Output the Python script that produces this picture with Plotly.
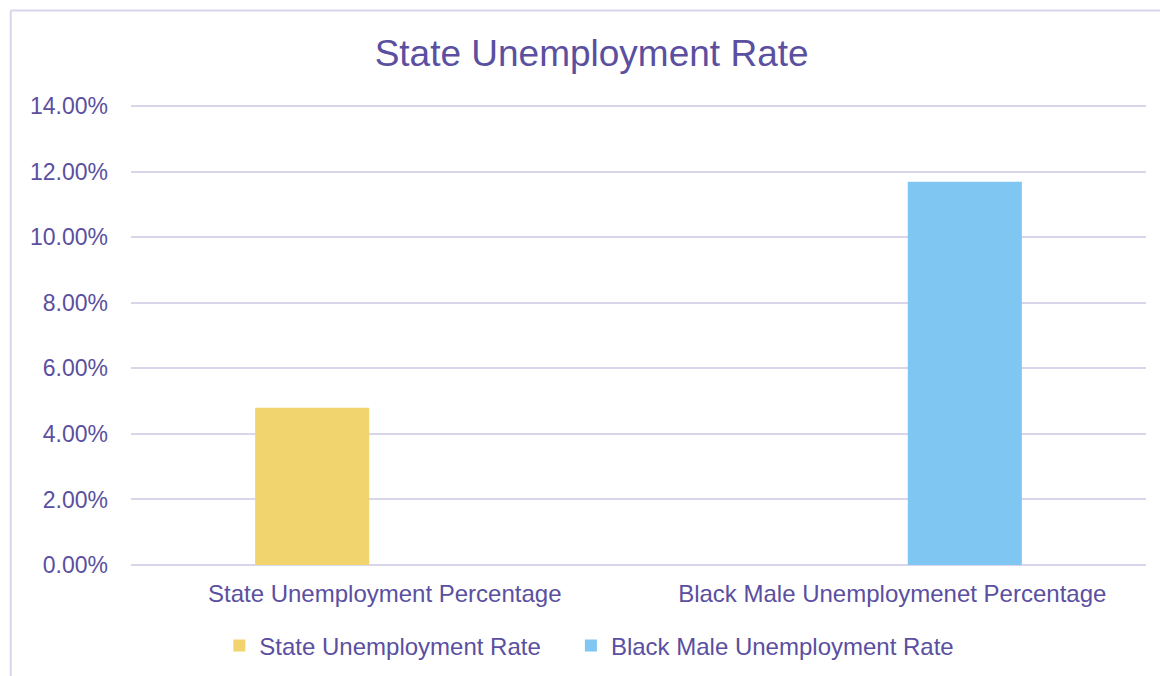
import plotly.graph_objects as go

# Categories and series values (percent)
categories = ["State Unemployment Percentage", "Black Male Unemploymenet Percentage"]
state_rate = [4.8, None]
black_male_rate = [None, 11.7]
series_names = ["State Unemployment Rate", "Black Male Unemployment Rate"]
y_ticks = [0, 2, 4, 6, 8, 10, 12, 14]
y_tick_labels = [f"{v:.2f}%" for v in y_ticks]

TEXT = "#5A4FA0"
GRID = "#D9D6EB"
FONT = "Liberation Sans, Arial, sans-serif"

fig = go.Figure()
fig.add_trace(go.Bar(x=categories, y=state_rate, name=series_names[0],
                     marker=dict(color="#F2D46E", line_width=0), legend="legend"))
fig.add_trace(go.Bar(x=categories, y=black_male_rate, name=series_names[1],
                     marker=dict(color="#7FC6F2", line_width=0), legend="legend2"))

legend_style = dict(orientation="h", xanchor="left", y=-0.175, yanchor="middle",
                    font=dict(size=24, color=TEXT), itemwidth=30,
                    bgcolor="rgba(0,0,0,0)")

fig.update_layout(
    width=1160, height=676,
    margin=dict(l=131, r=14, t=103, b=111, autoexpand=False),
    paper_bgcolor="white", plot_bgcolor="white",
    barmode="group", bargap=0.428, bargroupgap=0.214,
    font=dict(family=FONT, color=TEXT, size=23),
    title=dict(text="State Unemployment Rate", x=0.51, xanchor="center",
               y=0.922, yanchor="middle",
               font=dict(size=37, color=TEXT, family=FONT)),
    showlegend=True,
    legend=dict(x=0.087, **legend_style),
    legend2=dict(x=0.4334, **legend_style),
    xaxis=dict(showgrid=False, showline=False, ticks="", tickfont=dict(size=24),
               ticklabelstandoff=12),
    yaxis=dict(range=[0, 14.1], tickvals=y_ticks, ticktext=y_tick_labels,
               showgrid=True, gridcolor=GRID, gridwidth=2,
               zeroline=True, zerolinecolor=GRID, zerolinewidth=2,
               showline=False, ticks="", ticklabelstandoff=22,
               tickfont=dict(size=23)),
    shapes=[
        dict(type="line", xref="paper", yref="paper", x0=-0.1185, x1=1.02,
             y0=1.2, y1=1.2, line=dict(color=GRID, width=2)),
        dict(type="line", xref="paper", yref="paper", x0=-0.1185, x1=-0.1185,
             y0=1.2, y1=-0.3, line=dict(color=GRID, width=2)),
    ],
)

fig.write_html("out.html")
